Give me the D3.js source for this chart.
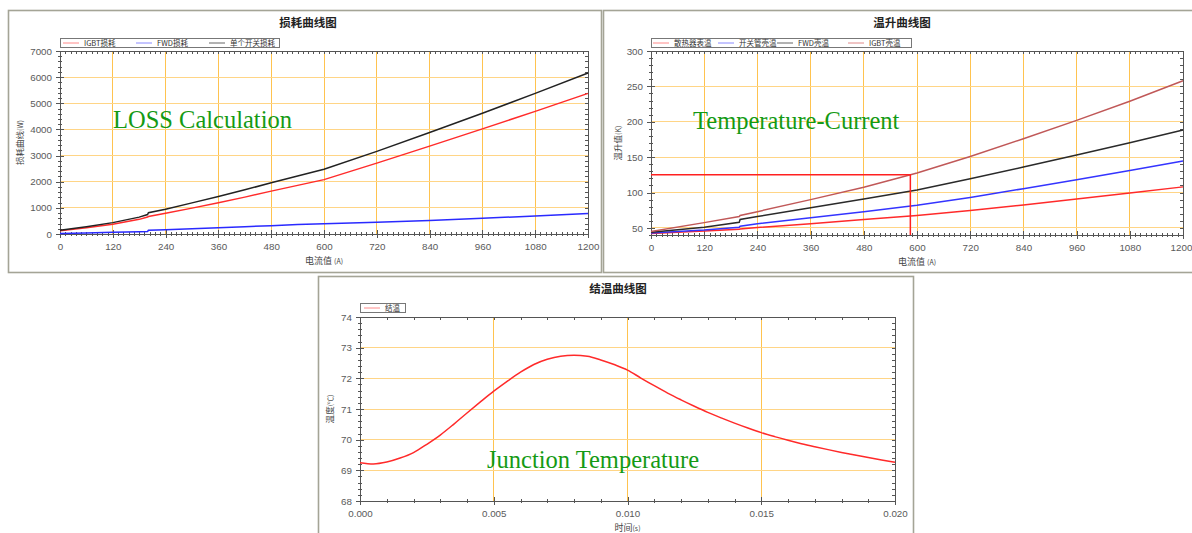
<!DOCTYPE html>
<html>
<head>
<meta charset="utf-8">
<script src="https://cdn.jsdelivr.net/npm/d3@7.9.0/dist/d3.min.js"></script>
<style>
  body { margin: 0; background: #fff; }
  svg { display: block; font-family: "Liberation Sans", Arial, sans-serif; }
  .cjk { font-family: "Noto Sans CJK SC", sans-serif; }
  .note { font-family: "Liberation Serif", "Times New Roman", serif; fill: #149a14; font-size: 24.5px; }
</style>
</head>
<body>
<svg id="chart" width="1192" height="533"></svg>
<script>
// ---- 데이터: 손실 곡선 (电流值 A -> W)
const lossCurrent = [0, 60, 120, 180, 199, 201, 240, 300, 360, 420, 480, 540, 600, 720, 840, 960, 1080, 1200];
const igbtLoss    = [120, 240, 370, 560, 650, 670, 790, 990, 1195, 1410, 1640, 1860, 2080, 2710, 3360, 4020, 4690, 5380];
const fwdLoss     = [20, 40, 65, 85, 95, 145, 160, 200, 240, 280, 320, 360, 395, 450, 520, 600, 690, 780];
const switchLoss  = [140, 280, 435, 645, 745, 815, 950, 1190, 1435, 1690, 1960, 2220, 2475, 3160, 3880, 4620, 5380, 6160];

// ---- 데이터: 온도 상승 곡선 (电流值 A -> K)
const tempCurrent = [0, 120, 199, 201, 240, 360, 480, 600, 720, 840, 960, 1080, 1200];
const sinkTemp    = [42, 45.5, 48, 48.5, 50.5, 56, 62, 67.5, 74.5, 82.5, 91, 99.5, 108];
const caseTemp    = [43, 47, 51, 52.5, 56, 64.5, 73, 82, 93, 105.5, 118, 131, 144.5];
const fwdTemp     = [44, 51, 58, 62, 66, 78.5, 91, 103.5, 119.5, 136, 153, 170.5, 188.5];
const igbtTemp    = [45, 57.5, 66, 67.5, 73, 90, 107.5, 127.5, 151, 176, 202, 229, 258];
const markerCurrent = 585;
const markerTemp = 125;

// ---- 데이터: 结温 (时间 s -> ℃)
const timeS = [0, 0.0005, 0.001, 0.0015, 0.002, 0.0025, 0.003, 0.0035, 0.004, 0.0045, 0.005,
  0.0055, 0.006, 0.0065, 0.007, 0.0075, 0.008, 0.0085, 0.009, 0.0095, 0.010,
  0.0105, 0.011, 0.0115, 0.012, 0.0125, 0.013, 0.0135, 0.014, 0.0145, 0.015,
  0.0155, 0.016, 0.0165, 0.017, 0.0175, 0.018, 0.0185, 0.019, 0.0195, 0.020];
const junctionTemp = [69.25, 69.21, 69.27, 69.40, 69.58, 69.85, 70.15, 70.5, 70.87, 71.23, 71.58,
  71.9, 72.2, 72.45, 72.62, 72.72, 72.75, 72.72, 72.6, 72.45, 72.27,
  72.01, 71.76, 71.52, 71.30, 71.09, 70.89, 70.71, 70.54, 70.38, 70.23,
  70.10, 69.98, 69.87, 69.77, 69.675, 69.585, 69.50, 69.42, 69.34, 69.26];

// 눈금
const currentTicks = d3.range(0, 1201, 120);
const lossTicks = d3.range(0, 7001, 1000);
const riseTicks = d3.range(50, 301, 50);
const timeTicks = [0, 0.005, 0.010, 0.015, 0.020];
const degTicks = d3.range(68, 75, 1);

const svg = d3.select('#chart');
const axisColor = '#555';

// 패널 테두리
function panel(x, y, w, h) {
  svg.append('rect')
    .attr('x', x).attr('y', y).attr('width', w).attr('height', h)
    .attr('fill', '#fff').attr('stroke', '#a4a496').attr('stroke-width', 1.6);
}

panel(8.5, 10.5, 593, 262);
panel(603.5, 10.5, 600, 262);
panel(318.5, 276.5, 595, 270);

function drawChart(cfg) {
  const g = svg.append('g');
  const x = d3.scaleLinear().domain(cfg.xDomain).range([cfg.left, cfg.right]);
  const y = d3.scaleLinear().domain(cfg.yDomain).range([cfg.bottom, cfg.top]);

  // 그리드
  const grid = g.append('g').attr('shape-rendering', 'crispEdges');
  grid.selectAll('line.v')
    .data(cfg.xTicks.slice(1, -1))
    .join('line')
    .attr('x1', d => x(d)).attr('x2', d => x(d))
    .attr('y1', cfg.top).attr('y2', cfg.bottom)
    .attr('stroke', '#ffc34f');
  grid.selectAll('line.h')
    .data(cfg.yTicks.filter(d => d > cfg.yDomain[0] && d < cfg.yDomain[1]))
    .join('line')
    .attr('x1', cfg.left).attr('x2', cfg.right)
    .attr('y1', d => y(d)).attr('y2', d => y(d))
    .attr('stroke', '#ffd586');

  // 위/오른쪽 축 (안쪽 작은 눈금)
  const top = g.append('g').attr('transform', `translate(0,${cfg.top})`)
    .call(d3.axisTop(x).tickValues(cfg.xMinor).tickFormat('').tickSizeInner(-3).tickSizeOuter(0));
  const right = g.append('g').attr('transform', `translate(${cfg.right},0)`)
    .call(d3.axisRight(y).tickValues(cfg.yMinor).tickFormat('').tickSizeInner(-3).tickSizeOuter(0));

  // 아래 축
  const bottomMinor = g.append('g').attr('transform', `translate(0,${cfg.bottom})`)
    .call(d3.axisBottom(x).tickValues(cfg.xMinor).tickFormat('').tickSizeInner(2).tickSizeOuter(0));
  bottomMinor.selectAll('.tick line').attr('y1', -2);
  const bottom = g.append('g').attr('transform', `translate(0,${cfg.bottom})`)
    .call(d3.axisBottom(x).tickValues(cfg.xTicks).tickFormat(cfg.xFormat).tickSizeInner(4).tickSizeOuter(0).tickPadding(5));
  bottom.selectAll('.tick line').attr('y1', -4);
  if (cfg.lastLabelShift) {
    bottom.selectAll('.tick text').filter((d, i, n) => i === n.length - 1).attr('dx', cfg.lastLabelShift);
  }

  // 왼쪽 축
  const leftMinor = g.append('g').attr('transform', `translate(${cfg.left},0)`)
    .call(d3.axisLeft(y).tickValues(cfg.yMinor).tickFormat('').tickSizeInner(2).tickSizeOuter(0));
  leftMinor.selectAll('.tick line').attr('x1', 2);
  const left = g.append('g').attr('transform', `translate(${cfg.left},0)`)
    .call(d3.axisLeft(y).tickValues(cfg.yTicks).tickFormat(d3.format('d')).tickSizeInner(4).tickSizeOuter(0).tickPadding(4));
  left.selectAll('.tick line').attr('x1', 4);

  [top, right, bottomMinor, bottom, leftMinor, left].forEach(a => {
    a.attr('shape-rendering', 'crispEdges');
    a.selectAll('path, line').attr('stroke', axisColor);
    a.selectAll('text').attr('fill', '#5a5a5a').attr('font-size', 9.8).attr('font-family', 'Liberation Sans, Arial, sans-serif');
  });

  // 제목
  g.append('text').attr('class', 'cjk')
    .attr('x', cfg.titleX).attr('y', cfg.titleY)
    .attr('text-anchor', 'middle').attr('font-size', 11.5).attr('font-weight', 'bold').attr('fill', '#222')
    .text(cfg.title);

  // x 라벨
  const xl = g.append('text').attr('class', 'cjk')
    .attr('x', (cfg.left + cfg.right) / 2).attr('y', cfg.bottom + 30)
    .attr('text-anchor', 'middle').attr('font-size', 9).attr('fill', '#444');
  xl.append('tspan').text(cfg.xLabel);
  xl.append('tspan').attr('font-size', 7).text(cfg.xUnit);

  // y 라벨
  const yl = g.append('text').attr('class', 'cjk')
    .attr('transform', `translate(${cfg.yLabelX},${(cfg.top + cfg.bottom) / 2}) rotate(-90)`)
    .attr('text-anchor', 'middle').attr('font-size', 8.5).attr('fill', '#444');
  yl.append('tspan').text(cfg.yLabel);
  yl.append('tspan').attr('font-size', 7).text(cfg.yUnit);

  // 선
  const line = d3.line().x(d => x(d[0])).y(d => y(d[1])).curve(cfg.curve || d3.curveLinear);
  cfg.series.forEach(s => {
    g.append('path')
      .datum(d3.zip(cfg.xValues, s.values))
      .attr('fill', 'none')
      .attr('stroke', s.color)
      .attr('stroke-width', 1.5)
      .attr('d', line);
  });

  // 범례
  const lg = g.append('g').attr('transform', `translate(${cfg.legend.x},${cfg.legend.y})`);
  lg.append('rect')
    .attr('x', 0.5).attr('y', 0.5).attr('width', cfg.legend.w).attr('height', 9)
    .attr('fill', '#fff').attr('stroke', '#777').attr('shape-rendering', 'crispEdges');
  cfg.series.forEach((s, i) => {
    const ox = cfg.legend.offsets[i];
    lg.append('line')
      .attr('x1', ox).attr('x2', ox + 16).attr('y1', 5).attr('y2', 5)
      .attr('stroke', s.legendColor).attr('stroke-width', 1);
    lg.append('text').attr('class', 'cjk')
      .attr('x', ox + 21).attr('y', 8)
      .attr('font-size', 7.5).attr('fill', '#333')
      .text(s.name);
  });

  return { x, y, g };
}

// 损耗曲线图
drawChart({
  left: 60, right: 588, top: 51, bottom: 234,
  xDomain: [0, 1200], yDomain: [0, 7000],
  xTicks: currentTicks, xMinor: d3.range(0, 1201, 12),
  yTicks: lossTicks, yMinor: d3.range(0, 7001, 200),
  xFormat: d3.format('d'),
  title: '损耗曲线图', titleX: 308, titleY: 27,
  xLabel: '电流值 ', xUnit: '(A)', yLabel: '损耗曲线', yUnit: '(W)', yLabelX: 23,
  xValues: lossCurrent,
  series: [
    { name: 'IGBT损耗', values: igbtLoss, color: '#ff2b2b', legendColor: '#ff8a8a' },
    { name: 'FWD损耗', values: fwdLoss, color: '#2a2aff', legendColor: '#8a8aff' },
    { name: '单个开关损耗', values: switchLoss, color: '#222', legendColor: '#666' }
  ],
  legend: { x: 60, y: 38, w: 219, offsets: [3, 76, 149] }
});

// 温升曲线图
const temp = drawChart({
  left: 651, right: 1183, top: 51, bottom: 235,
  xDomain: [0, 1200], yDomain: [40, 300],
  xTicks: currentTicks, xMinor: d3.range(0, 1201, 12),
  yTicks: riseTicks, yMinor: d3.range(40, 301, 10),
  xFormat: d3.format('d'),
  lastLabelShift: -2,
  title: '温升曲线图', titleX: 902, titleY: 27,
  xLabel: '电流值 ', xUnit: '(A)', yLabel: '温升值', yUnit: '(K)', yLabelX: 621,
  xValues: tempCurrent,
  series: [
    { name: '散热器表温', values: sinkTemp, color: '#ff2a2a', legendColor: '#ff8a8a' },
    { name: '开关管壳温', values: caseTemp, color: '#3434ff', legendColor: '#8a8aff' },
    { name: 'FWD壳温', values: fwdTemp, color: '#2a2a2a', legendColor: '#666' },
    { name: 'IGBT壳温', values: igbtTemp, color: '#c05858', legendColor: '#e08a8a' }
  ],
  legend: { x: 651, y: 38, w: 260, offsets: [2, 67, 126, 197] }
});

// 표시선 (585 A, 125 K)
temp.g.append('path')
  .attr('d', `M${temp.x(0)},${temp.y(markerTemp)}H${temp.x(markerCurrent)}V${temp.y(40)}`)
  .attr('fill', 'none').attr('stroke', '#ff2020').attr('stroke-width', 1.5);

// 结温曲线图
drawChart({
  left: 360, right: 895, top: 317, bottom: 501,
  xDomain: [0, 0.02], yDomain: [68, 74],
  xTicks: timeTicks, xMinor: d3.range(0, 0.0201, 0.001),
  yTicks: degTicks, yMinor: d3.range(68, 74.01, 0.2),
  xFormat: d3.format('.3f'),
  title: '结温曲线图', titleX: 618, titleY: 293,
  xLabel: '时间', xUnit: '(s)', yLabel: '温度', yUnit: '(℃)', yLabelX: 333,
  xValues: timeS,
  curve: d3.curveMonotoneX,
  series: [
    { name: '结温', values: junctionTemp, color: '#ff2a2a', legendColor: '#ff8a8a' }
  ],
  legend: { x: 360, y: 303, w: 45, offsets: [4] }
});

// 녹색 주석
svg.append('text').attr('class', 'note').attr('x', 113).attr('y', 128).text('LOSS Calculation');
svg.append('text').attr('class', 'note').attr('x', 693).attr('y', 129).text('Temperature-Current');
svg.append('text').attr('class', 'note').attr('x', 487).attr('y', 468).text('Junction Temperature');
</script>
</body>
</html>
